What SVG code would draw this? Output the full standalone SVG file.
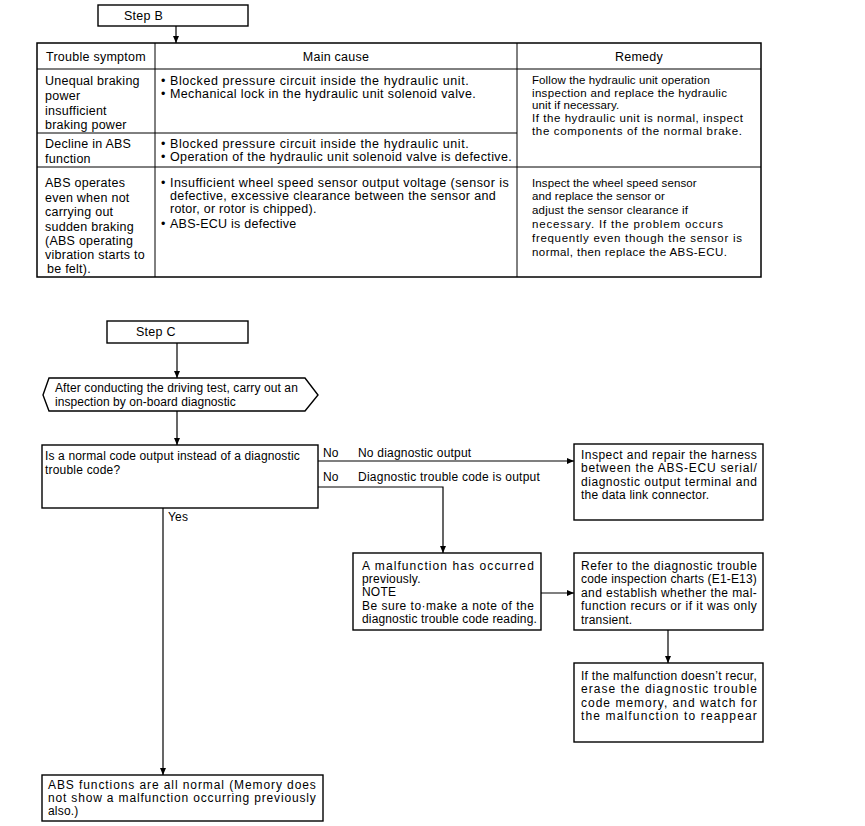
<svg xmlns="http://www.w3.org/2000/svg" width="865" height="826" viewBox="0 0 865 826">
<defs>
<marker id="arr" markerUnits="userSpaceOnUse" markerWidth="7" markerHeight="6" refX="7" refY="3" orient="auto">
<path d="M0,0 L7,3 L0,6 z" fill="#000"/>
</marker>
<style>
text{font-family:"Liberation Sans",Arial,sans-serif;font-size:12.5px;fill:#000;letter-spacing:0.25px}
.s{font-size:12px;letter-spacing:0.2px}
.r{font-size:11.5px;letter-spacing:0.1px}
.box{fill:#fff;stroke:#000;stroke-width:1.4}
.grid{stroke:#000;stroke-width:1;fill:none}
.outer{stroke:#000;stroke-width:1.5;fill:none}
.conn{stroke:#000;stroke-width:1.2;fill:none;marker-end:url(#arr)}
</style>
</defs>
<rect width="865" height="826" fill="#fff"/>

<g id="connectors">
<path class="conn" d="M176,26 V43"/>
<path class="conn" d="M177,343 V378"/>
<path class="conn" d="M177,411 V445"/>
<path class="conn" d="M318,461 H574"/>
<path class="conn" d="M318,487 H443 V553"/>
<path class="conn" d="M541,593 H574"/>
<path class="conn" d="M668,630 V663"/>
<path class="conn" d="M163,508 V775"/>
<text class="s" x="323" y="457">No</text>
<text class="s" x="358" y="457">No diagnostic output</text>
<text class="s" x="323" y="481">No</text>
<text class="s" x="358" y="481" textLength="182" lengthAdjust="spacing">Diagnostic trouble code is output</text>
<text class="s" x="168" y="521">Yes</text>
</g>

<g id="stepB">
<rect class="box" x="98" y="5" width="150" height="21"/>
<text x="124" y="20">Step B</text>
</g>

<g id="table">
<rect class="outer" x="37" y="43" width="724" height="234"/>
<path class="grid" d="M37,69 H761 M155,43 V277 M517,43 V277 M37,133 H517 M37,167 H761"/>
<text x="46" y="61">Trouble symptom</text>
<text x="336" y="61" text-anchor="middle">Main cause</text>
<text x="639" y="61" text-anchor="middle">Remedy</text>

<text x="45" y="85">Unequal braking</text>
<text x="45" y="100">power</text>
<text x="45" y="115">insufficient</text>
<text x="45" y="129">braking power</text>

<text x="161" y="85">•<tspan x="170" textLength="299" lengthAdjust="spacing">Blocked pressure circuit inside the hydraulic unit.</tspan></text>
<text x="161" y="98">•<tspan x="170" textLength="306" lengthAdjust="spacing">Mechanical lock in the hydraulic unit solenoid valve.</tspan></text>

<text class="r" x="532" y="84">Follow the hydraulic unit operation</text>
<text class="r" x="532" y="97" textLength="195" lengthAdjust="spacing">inspection and replace the hydraulic</text>
<text class="r" x="532" y="109">unit if necessary.</text>
<text class="r" x="532" y="122" textLength="211" lengthAdjust="spacing">If the hydraulic unit is normal, inspect</text>
<text class="r" x="532" y="135" textLength="210" lengthAdjust="spacing">the components of the normal brake.</text>

<text x="45" y="148">Decline in ABS</text>
<text x="45" y="163">function</text>
<text x="161" y="148">•<tspan x="170" textLength="299" lengthAdjust="spacing">Blocked pressure circuit inside the hydraulic unit.</tspan></text>
<text x="161" y="161">•<tspan x="170" textLength="342" lengthAdjust="spacing">Operation of the hydraulic unit solenoid valve is defective.</tspan></text>

<text x="45" y="187">ABS operates</text>
<text x="45" y="202">even when not</text>
<text x="45" y="216">carrying out</text>
<text x="45" y="231">sudden braking</text>
<text x="45" y="245">(ABS operating</text>
<text x="45" y="259">vibration starts to</text>
<text x="47" y="273">be felt).</text>

<text x="161" y="187">•<tspan x="170" textLength="339" lengthAdjust="spacing">Insufficient wheel speed sensor output voltage (sensor is</tspan></text>
<text x="170" y="200" textLength="326" lengthAdjust="spacing">defective, excessive clearance between the sensor and</text>
<text x="170" y="213">rotor, or rotor is chipped).</text>
<text x="161" y="228">•<tspan x="170">ABS-ECU is defective</tspan></text>

<text class="r" x="532" y="187">Inspect the wheel speed sensor</text>
<text class="r" x="532" y="200">and replace the sensor or</text>
<text class="r" x="532" y="214" textLength="156" lengthAdjust="spacing">adjust the sensor clearance if</text>
<text class="r" x="532" y="228" textLength="191" lengthAdjust="spacing">necessary. If the problem occurs</text>
<text class="r" x="532" y="242" textLength="210" lengthAdjust="spacing">frequently even though the sensor is</text>
<text class="r" x="532" y="256" textLength="195" lengthAdjust="spacing">normal, then replace the ABS-ECU.</text>
</g>

<g id="stepC">
<rect class="box" x="107" y="321" width="141" height="22"/>
<text x="136" y="336">Step C</text>
</g>

<g id="inspection">
<polygon class="box" points="43,395 49,378 305,378 318,395 305,411 49,411"/>
<text class="s" x="55" y="392" textLength="243" lengthAdjust="spacing">After conducting the driving test, carry out an</text>
<text class="s" x="55" y="406" textLength="181" lengthAdjust="spacing">inspection by on-board diagnostic</text>
</g>

<g id="decision">
<rect class="box" x="42" y="445" width="276" height="63"/>
<text class="s" x="45" y="460" textLength="255" lengthAdjust="spacing">Is a normal code output instead of a diagnostic</text>
<text class="s" x="45" y="474">trouble code?</text>
</g>

<g id="harness">
<rect class="box" x="574" y="444" width="189" height="76"/>
<text class="s" x="581" y="459" textLength="176" lengthAdjust="spacing">Inspect and repair the harness</text>
<text class="s" x="581" y="472" textLength="176" lengthAdjust="spacing">between the ABS-ECU serial/</text>
<text class="s" x="581" y="486" textLength="176" lengthAdjust="spacing">diagnostic output terminal and</text>
<text class="s" x="581" y="499">the data link connector.</text>
</g>

<g id="malfunction">
<rect class="box" x="353" y="553" width="188" height="77"/>
<text class="s" x="362" y="570" textLength="172" lengthAdjust="spacing">A malfunction has occurred</text>
<text class="s" x="362" y="583">previously.</text>
<text class="s" x="362" y="596">NOTE</text>
<text class="s" x="362" y="610" textLength="172" lengthAdjust="spacing">Be sure to·make a note of the</text>
<text class="s" x="362" y="623" textLength="175" lengthAdjust="spacing">diagnostic trouble code reading.</text>
</g>

<g id="refer">
<rect class="box" x="574" y="553" width="189" height="77"/>
<text class="s" x="581" y="570" textLength="176" lengthAdjust="spacing">Refer to the diagnostic trouble</text>
<text class="s" x="581" y="583" textLength="176" lengthAdjust="spacing">code inspection charts (E1-E13)</text>
<text class="s" x="581" y="597" textLength="176" lengthAdjust="spacing">and establish whether the mal-</text>
<text class="s" x="581" y="610" textLength="176" lengthAdjust="spacing">function recurs or if it was only</text>
<text class="s" x="581" y="624">transient.</text>
</g>

<g id="erase">
<rect class="box" x="574" y="663" width="189" height="79"/>
<text class="s" x="581" y="680" textLength="176" lengthAdjust="spacing">If the malfunction doesn’t recur,</text>
<text class="s" x="581" y="693" textLength="176" lengthAdjust="spacing">erase the diagnostic trouble</text>
<text class="s" x="581" y="707" textLength="176" lengthAdjust="spacing">code memory, and watch for</text>
<text class="s" x="581" y="720" textLength="176" lengthAdjust="spacing">the malfunction to reappear</text>
</g>

<g id="normal">
<rect class="box" x="42" y="775" width="281" height="46"/>
<text class="s" x="48" y="789" textLength="268" lengthAdjust="spacing">ABS functions are all normal (Memory does</text>
<text class="s" x="48" y="802" textLength="268" lengthAdjust="spacing">not show a malfunction occurring previously</text>
<text class="s" x="48" y="815">also.)</text>
</g>
</svg>
